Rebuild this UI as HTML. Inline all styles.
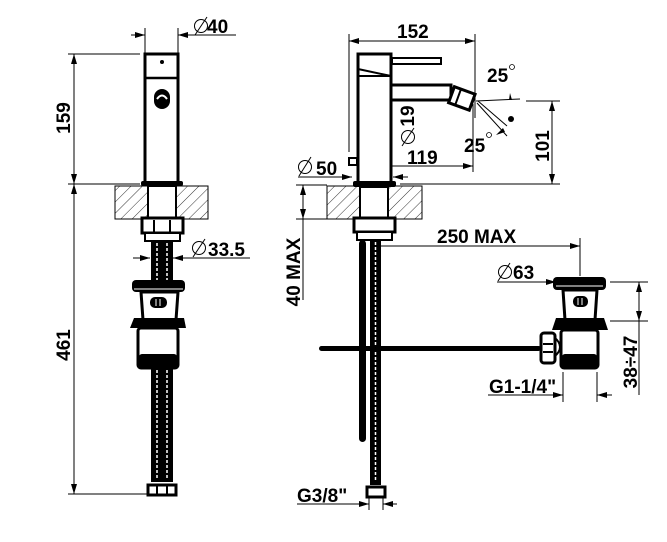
<!DOCTYPE html>
<html><head><meta charset="utf-8"><style>
html,body{margin:0;padding:0;background:#fff;}
svg{display:block;}
text{font-family:"Liberation Sans",sans-serif;font-weight:bold;font-size:19px;fill:#000;}
</style></head><body>
<svg width="667" height="542" viewBox="0 0 667 542" xmlns="http://www.w3.org/2000/svg">
<defs>
<pattern id="h" width="8" height="8" patternUnits="userSpaceOnUse" patternTransform="rotate(45)">
<line x1="0" y1="0" x2="0" y2="8" stroke="#000" stroke-width="0.8"/>
</pattern>
<marker id="a" viewBox="0 0 10 6" refX="10" refY="3" markerWidth="10" markerHeight="6" orient="auto-start-reverse" markerUnits="userSpaceOnUse">
<path d="M0,0 L10,3 L0,6 z" fill="#000"/></marker>
</defs>
<g stroke="#000" fill="none" stroke-width="1">
<!-- LEFT VIEW dims -->
<line x1="145" y1="28" x2="145" y2="54"/><line x1="178" y1="28" x2="178" y2="54"/>
<line x1="131" y1="35" x2="145" y2="35" marker-end="url(#a)"/>
<line x1="192" y1="35" x2="178" y2="35" marker-end="url(#a)"/>
<line x1="178" y1="35" x2="236" y2="35"/>
<line x1="68" y1="54" x2="140" y2="54"/>
<line x1="68" y1="184" x2="140" y2="184"/>
<line x1="68" y1="494" x2="150" y2="494"/>
<line x1="74" y1="54" x2="74" y2="184" marker-start="url(#a)" marker-end="url(#a)"/>
<line x1="74" y1="184" x2="74" y2="494" marker-start="url(#a)" marker-end="url(#a)"/>
<line x1="133" y1="258" x2="150" y2="258" marker-end="url(#a)"/>
<line x1="190" y1="258" x2="173" y2="258" marker-end="url(#a)"/>
<line x1="173" y1="258" x2="250" y2="258"/>
<line x1="193" y1="257" x2="205" y2="239"/>
<line x1="195" y1="35" x2="207" y2="17"/>
</g>
<text x="207" y="33">40</text>
<text x="208" y="256">33.5</text>
<circle cx="201" cy="26" r="6.5" fill="none" stroke="#000"/>
<circle cx="199" cy="248" r="6.5" fill="none" stroke="#000"/>
<text transform="translate(70,118) rotate(-90)" text-anchor="middle">159</text>
<text transform="translate(70,345) rotate(-90)" text-anchor="middle">461</text>

<!-- LEFT faucet -->
<rect x="115" y="186" width="93" height="33" fill="url(#h)" stroke="#000"/>
<rect x="145" y="54" width="33" height="129" fill="#fff" stroke="#000" stroke-width="3"/>
<line x1="145" y1="78" x2="178" y2="78" stroke="#000" stroke-width="2.5"/>
<circle cx="162" cy="62" r="2" fill="#000"/>
<rect x="154" y="89" width="16" height="20" rx="8" fill="#000"/>
<path d="M157,99 Q162,92 167,99" stroke="#fff" stroke-width="2" fill="none"/>
<rect x="141" y="181" width="42" height="5" rx="2" fill="#000"/>
<rect x="148" y="186" width="28" height="32" fill="#fff" stroke="#000" stroke-width="2"/>
<rect x="142" y="218" width="41" height="15" fill="#fff" stroke="#000" stroke-width="3"/>
<line x1="154" y1="220" x2="154" y2="232" stroke="#000" stroke-width="2"/><line x1="170" y1="220" x2="170" y2="232" stroke="#000" stroke-width="2"/>
<rect x="145" y="233" width="35" height="8" fill="#fff" stroke="#000" stroke-width="2"/>
<rect x="151" y="241" width="22" height="40" fill="#000"/>
<line x1="157" y1="243" x2="157" y2="280" stroke="#fff" stroke-width="1.5" stroke-dasharray="3 2"/>
<line x1="167" y1="243" x2="167" y2="280" stroke="#fff" stroke-width="1.5" stroke-dasharray="3 2"/>
<rect x="132" y="280" width="53" height="12" rx="4" fill="#000"/>
<line x1="134" y1="289" x2="183" y2="289" stroke="#fff" stroke-width="1"/>
<path d="M141,292 L178,292 L176,320 L143,320 z" fill="#fff" stroke="#000" stroke-width="3"/>
<rect x="150" y="297" width="17" height="11" rx="5" fill="#000"/>
<line x1="156" y1="299" x2="156" y2="306" stroke="#fff"/><line x1="160" y1="299" x2="160" y2="306" stroke="#fff"/>
<path d="M134,318 L184,318 L186,328 L130,328 z" fill="#000"/>
<rect x="138" y="328" width="40" height="40" rx="3" fill="#fff" stroke="#000" stroke-width="3"/>
<rect x="139" y="354" width="38" height="14" rx="3" fill="#000"/>
<rect x="151" y="368" width="22" height="113" fill="#000"/>
<line x1="157" y1="370" x2="157" y2="478" stroke="#fff" stroke-width="1.5" stroke-dasharray="3 2"/>
<line x1="167" y1="370" x2="167" y2="478" stroke="#fff" stroke-width="1.5" stroke-dasharray="3 2"/>
<rect x="148" y="485" width="28" height="10" fill="#fff" stroke="#000" stroke-width="3"/>
<line x1="157" y1="485" x2="157" y2="495" stroke="#000" stroke-width="2"/><line x1="167" y1="485" x2="167" y2="495" stroke="#000" stroke-width="2"/>
<line x1="151" y1="481" x2="173" y2="481" stroke="#000" stroke-width="2"/>

<!-- RIGHT VIEW dims -->
<g stroke="#000" fill="none" stroke-width="1">
<line x1="349" y1="34" x2="349" y2="152"/><line x1="475" y1="34" x2="475" y2="118"/>
<line x1="349" y1="41" x2="475" y2="41" marker-start="url(#a)" marker-end="url(#a)"/>
<line x1="380" y1="72" x2="380" y2="146" marker-start="url(#a)"/>
<line x1="380" y1="100" x2="380" y2="88" marker-end="url(#a)"/>
<line x1="374" y1="166" x2="473" y2="166" marker-start="url(#a)" marker-end="url(#a)"/>
<line x1="473" y1="104" x2="473" y2="172"/>
<line x1="374" y1="160" x2="374" y2="172"/>
<line x1="298" y1="177" x2="352" y2="177" marker-end="url(#a)"/>
<line x1="408" y1="177" x2="393" y2="177" marker-end="url(#a)"/>
<line x1="299" y1="176" x2="311" y2="157"/>
<line x1="476" y1="101" x2="520" y2="99"/>
<line x1="526" y1="101" x2="560" y2="101"/>
<line x1="400" y1="184" x2="560" y2="184"/>
<line x1="552" y1="101" x2="552" y2="184" marker-start="url(#a)" marker-end="url(#a)"/>
<line x1="478" y1="101" x2="507" y2="126"/>
<line x1="477" y1="103" x2="507" y2="136"/>
<line x1="296" y1="185" x2="327" y2="185"/><line x1="296" y1="219" x2="327" y2="219"/>
<line x1="303" y1="185" x2="303" y2="219" marker-start="url(#a)" marker-end="url(#a)"/>
<line x1="303" y1="219" x2="303" y2="300"/>
<line x1="381" y1="246" x2="580" y2="246" marker-end="url(#a)"/>
<line x1="580" y1="238" x2="580" y2="276"/>
<line x1="497" y1="282" x2="556" y2="282" marker-end="url(#a)"/>
<line x1="498" y1="281" x2="510" y2="263"/>
<line x1="610" y1="282" x2="648" y2="282"/><line x1="610" y1="321" x2="648" y2="321"/>
<line x1="639" y1="282" x2="639" y2="321" marker-start="url(#a)" marker-end="url(#a)"/>
<line x1="639" y1="321" x2="639" y2="395"/>
<line x1="488" y1="395" x2="563" y2="395" marker-end="url(#a)"/>
<line x1="612" y1="395" x2="597" y2="395" marker-end="url(#a)"/>
<line x1="563" y1="372" x2="563" y2="402"/><line x1="597" y1="372" x2="597" y2="402"/>
<line x1="297" y1="504" x2="369" y2="504" marker-end="url(#a)"/>
<line x1="397" y1="504" x2="383" y2="504" marker-end="url(#a)"/>
<line x1="369" y1="496" x2="369" y2="510"/><line x1="383" y1="496" x2="383" y2="510"/>
</g>
<path d="M510,93 L512,100 L509,100 z" fill="#000"/>
<circle cx="511" cy="119" r="3" fill="#000"/>
<path d="M496,135 L503,128 L505,132 z" fill="#000"/>
<text x="397" y="38">152</text>
<text x="487" y="82">25</text><circle cx="512" cy="67" r="2.5" fill="none" stroke="#000" stroke-width="0.8"/>
<text x="464" y="152">25</text><circle cx="489" cy="135" r="2.5" fill="none" stroke="#000" stroke-width="0.8"/>
<text x="407" y="164">119</text>
<text x="316" y="175">50</text><circle cx="305" cy="167" r="6.5" fill="none" stroke="#000"/>
<text transform="translate(414,116) rotate(-90)" text-anchor="middle">19</text>
<circle cx="408" cy="137" r="6.5" fill="none" stroke="#000"/><line x1="402" y1="146" x2="414" y2="128" stroke="#000"/>
<text transform="translate(549,146) rotate(-90)" text-anchor="middle">101</text>
<text transform="translate(300,272) rotate(-90)" text-anchor="middle">40 MAX</text>
<text x="437" y="243">250 MAX</text>
<text x="513" y="279">63</text>
<circle cx="505" cy="272" r="6.5" fill="none" stroke="#000"/>
<text transform="translate(637,362) rotate(-90)" text-anchor="middle">38÷47</text>
<text x="489" y="393">G1-1/4"</text>
<text x="297" y="502">G3/8"</text>

<!-- RIGHT faucet -->
<rect x="327" y="186" width="95" height="33" fill="url(#h)" stroke="#000"/>
<rect x="392" y="58" width="49" height="6" fill="#fff" stroke="#000" stroke-width="2"/>
<rect x="391" y="85" width="60" height="15" fill="#fff" stroke="#000" stroke-width="3"/>
<g transform="translate(462,98) rotate(20)">
<rect x="-11" y="-8" width="22" height="17" fill="#fff" stroke="#000" stroke-width="3"/>
<line x1="-4" y1="-8" x2="-4" y2="9" stroke="#000" stroke-width="2"/>
</g>
<rect x="358" y="54" width="33" height="129" fill="#fff" stroke="#000" stroke-width="3"/>
<path d="M358,69 L391,76" stroke="#000" stroke-width="2"/>
<line x1="358" y1="76" x2="391" y2="76" stroke="#000" stroke-width="2"/>
<rect x="349" y="158" width="8" height="7" fill="#fff" stroke="#000" stroke-width="2"/>
<rect x="353" y="181" width="43" height="6" rx="2" fill="#000"/>
<rect x="360" y="187" width="28" height="31" fill="#fff" stroke="#000" stroke-width="2"/>
<rect x="354" y="218" width="41" height="14" fill="#fff" stroke="#000" stroke-width="3"/>
<rect x="357" y="232" width="35" height="8" fill="#fff" stroke="#000" stroke-width="2"/>
<rect x="359" y="240" width="7" height="202" rx="3.5" fill="#000"/>
<rect x="370" y="240" width="11" height="245" fill="#000"/>
<line x1="375.5" y1="242" x2="375.5" y2="482" stroke="#fff" stroke-width="1.5" stroke-dasharray="3 2"/>
<rect x="367" y="487" width="18" height="10" fill="#fff" stroke="#000" stroke-width="3"/>
<rect x="319" y="346" width="222" height="5" rx="2.5" fill="#000"/>
<!-- waste -->
<rect x="553" y="277" width="53" height="13" rx="4" fill="#000"/>
<line x1="556" y1="286" x2="603" y2="286" stroke="#fff"/>
<path d="M563,290 L597,290 L595,320 L565,320 z" fill="#fff" stroke="#000" stroke-width="3"/>
<rect x="573" y="296" width="15" height="11" rx="5" fill="#000"/>
<line x1="578" y1="298" x2="578" y2="305" stroke="#fff"/><line x1="582" y1="298" x2="582" y2="305" stroke="#fff"/>
<path d="M556,318 L604,318 L608,330 L552,330 z" fill="#000"/>
<rect x="561" y="330" width="37" height="38" rx="3" fill="#fff" stroke="#000" stroke-width="3"/>
<rect x="562" y="354" width="35" height="14" rx="3" fill="#000"/>
<path d="M554,337 Q566,347 554,357" fill="#fff" stroke="#000" stroke-width="2"/>
<rect x="541" y="333" width="14" height="30" rx="3" fill="#fff" stroke="#000" stroke-width="3"/>
<line x1="543" y1="344" x2="553" y2="344" stroke="#000" stroke-width="2"/><line x1="543" y1="352" x2="553" y2="352" stroke="#000" stroke-width="2"/>
</svg>
</body></html>
